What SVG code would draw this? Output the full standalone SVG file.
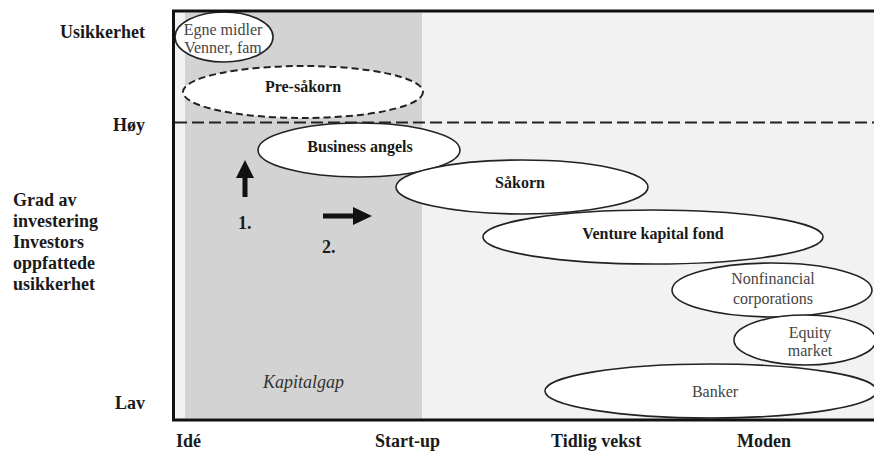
<svg xmlns="http://www.w3.org/2000/svg" width="874" height="451" viewBox="0 0 874 451">
<style>
  text{font-family:"Liberation Serif","DejaVu Serif",serif}
  .lbl{font-weight:bold;font-size:18px;fill:#1a1a1a}
  .b{font-weight:bold;font-size:16px;fill:#1a1a1a;text-anchor:middle}
  .r{font-weight:normal;font-size:16px;fill:#444;text-anchor:middle}
  .it{font-style:italic;font-size:18px;fill:#333;text-anchor:middle}
  .el{fill:#fff;stroke:#222;stroke-width:1.6}
  .arrow{fill:#111}
</style>
<rect x="0" y="0" width="874" height="451" fill="#fff"/>
<g id="frame">
  <rect x="173.5" y="11" width="740" height="409" fill="#f2f2f2"/>
  <rect x="185" y="12.5" width="237" height="406" fill="#d3d3d3"/>
  <text class="it" x="303.5" y="388">Kapitalgap</text>
</g>
<g id="n-egne">
  <ellipse class="el" cx="224" cy="37" rx="49" ry="25"/>
  <text class="r" x="223" y="35">Egne midler</text>
  <text class="r" x="223" y="53">Venner, fam</text>
</g>
<g id="n-presakorn">
  <ellipse cx="303" cy="92" rx="120" ry="26" fill="#fff" stroke="#222" stroke-width="2" stroke-dasharray="7 4"/>
  <text class="b" x="303" y="92">Pre-såkorn</text>
</g>
<line x1="175" y1="122.5" x2="874" y2="122.5" stroke="#222" stroke-width="2" stroke-dasharray="12 5"/>
<g id="n-angels">
  <ellipse class="el" cx="359" cy="150" rx="101" ry="27"/>
  <text class="b" x="360" y="152">Business angels</text>
</g>
<g id="n-sakorn">
  <ellipse class="el" cx="522" cy="187" rx="126" ry="27"/>
  <text class="b" x="520" y="188">Såkorn</text>
</g>
<g id="n-venture">
  <ellipse class="el" cx="653" cy="237" rx="170" ry="27"/>
  <text class="b" x="653" y="239">Venture kapital fond</text>
</g>
<g id="n-nonfinancial">
  <ellipse class="el" cx="772" cy="290" rx="100" ry="27"/>
  <text class="r" x="773" y="284">Nonfinancial</text>
  <text class="r" x="773" y="304">corporations</text>
</g>
<g id="n-equity">
  <ellipse class="el" cx="805" cy="340" rx="71" ry="25"/>
  <text class="r" x="810" y="338">Equity</text>
  <text class="r" x="810" y="356">market</text>
</g>
<g id="n-banker">
  <ellipse class="el" cx="711" cy="391" rx="166" ry="27"/>
  <text class="r" x="715" y="397">Banker</text>
</g>
<rect x="173.5" y="11" width="740" height="409" fill="none" stroke="#111" stroke-width="3"/>
<g id="connectors">
  <rect class="arrow" x="242.5" y="176" width="5" height="21"/>
  <polygon class="arrow" points="236,178 245,160 254,178"/>
  <rect class="arrow" x="323" y="213.5" width="32" height="5"/>
  <polygon class="arrow" points="353,207 372,216 353,225"/>
</g>
<g id="markers">
  <text class="lbl" x="238" y="229">1.</text>
  <text class="lbl" x="322" y="253">2.</text>
</g>
<g id="axis-y">
  <text class="lbl" x="145" y="38" text-anchor="end">Usikkerhet</text>
  <text class="lbl" x="145" y="131" text-anchor="end">Høy</text>
  <text class="lbl" x="13" y="206">Grad av</text>
  <text class="lbl" x="13" y="227">investering</text>
  <text class="lbl" x="13" y="248">Investors</text>
  <text class="lbl" x="13" y="269">oppfattede</text>
  <text class="lbl" x="13" y="290">usikkerhet</text>
  <text class="lbl" x="145" y="409" text-anchor="end">Lav</text>
</g>
<g id="axis-x">
  <text class="lbl" x="176" y="447">Idé</text>
  <text class="lbl" x="375" y="447">Start-up</text>
  <text class="lbl" x="551" y="447">Tidlig vekst</text>
  <text class="lbl" x="737" y="447">Moden</text>
</g>
</svg>
